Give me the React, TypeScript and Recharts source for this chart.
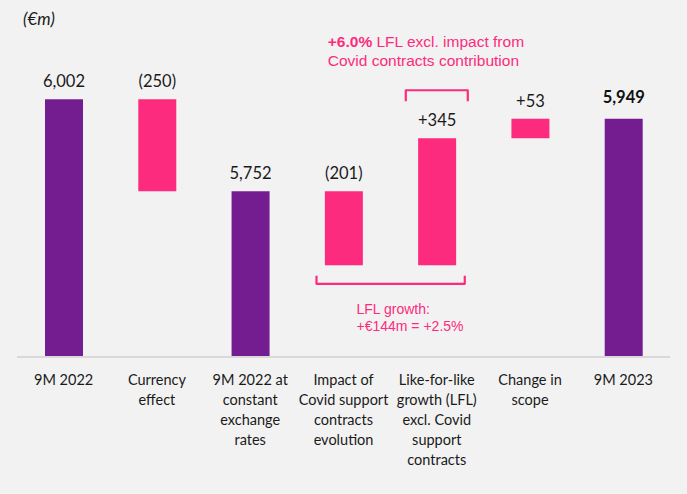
import { BarChart, Bar, XAxis, YAxis, Cell, LabelList } from 'recharts';

// categories (line breaks as in the slide)
const categories = [
  '9M 2022',
  'Currency\neffect',
  '9M 2022 at\nconstant\nexchange\nrates',
  'Impact of\nCovid support\ncontracts\nevolution',
  'Like-for-like\ngrowth (LFL)\nexcl. Covid\nsupport\ncontracts',
  'Change in\nscope',
  '9M 2023',
];
// totals are absolute, the rest are steps (€m)
const amounts = [6002, -250, 5752, -201, 345, 53, 5949];
const isTotal = [true, false, true, false, false, false, true];
const valueLabels = ['6,002', '(250)', '5,752', '(201)', '+345', '+53', '5,949'];

const W = 687;
const H = 494;
const MARGIN = { top: 20, right: 17, left: 17, bottom: 0 };
const AXIS_H = 137;
const Y_MIN = 5302;
const Y_MAX = 6217;

const PURPLE = '#741D91';
const PINK = '#FC2B7D';
const TEXT = '#1A1A1A';
const BODY_FONT = 'Lato, "Open Sans", sans-serif';
const NOTE_FONT = '"Liberation Sans", Arial, sans-serif';

// running waterfall levels
const ends: number[] = [];
amounts.forEach((a, i) => {
  ends.push(isTotal[i] ? a : ends[i - 1] + a);
});
const data = categories.map((name, i) => {
  const start = isTotal[i] ? 0 : ends[i - 1];
  return {
    name,
    range: [Math.min(start, ends[i]), Math.max(start, ends[i])],
    label: valueLabels[i],
  };
});

// same mapping as the chart, used only to place the annotations
const plotW = W - MARGIN.left - MARGIN.right;
const plotH = H - MARGIN.top - MARGIN.bottom - AXIS_H;
const band = plotW / categories.length;
const xc = (i: number) => MARGIN.left + band * (i + 0.5);
const yv = (v: number) => MARGIN.top + ((Y_MAX - v) / (Y_MAX - Y_MIN)) * plotH;

const Tick = (props: any) => {
  const { x, y, payload } = props;
  const lines = String(payload.value).split('\n');
  return (
    <text x={x} y={y} textAnchor="middle" fill={TEXT} fontSize={14.5} fontFamily={BODY_FONT}>
      {lines.map((l, i) => (
        <tspan key={i} x={x} y={y + 28 + i * 20}>
          {l}
        </tspan>
      ))}
    </text>
  );
};

const ValueLabel = (props: any) => {
  const { x, y, width, value } = props;
  const idx = valueLabels.indexOf(String(value));
  const last = idx === valueLabels.length - 1;
  return (
    <text
      x={Number(x) + Number(width) / 2}
      y={Number(y) - (last ? 16 : 12)}
      textAnchor="middle"
      fill={last ? '#111' : TEXT}
      fontSize={16.5}
      fontWeight={last ? 700 : 400}
      fontFamily={BODY_FONT}
    >
      {value}
    </text>
  );
};

function Notes() {
  const lflTop = yv(ends[4]);
  const covidBottom = yv(ends[3]);
  const upTop = lflTop - 48;
  const lowBottom = covidBottom + 18.5;
  const upL = xc(4) - 31;
  const upR = xc(4) + 31;
  const lowL = xc(3) - 27;
  const lowR = xc(4) + 28;
  return (
    <svg width={W} height={H} style={{ position: 'absolute', left: 0, top: 0, pointerEvents: 'none' }}>
      <text x={23} y={25} fontSize={17} fontStyle="italic" fill={TEXT} fontFamily={BODY_FONT}>
        (€m)
      </text>
      <path
        d={`M${upL},${upTop + 11} V${upTop} H${upR} V${upTop + 11}`}
        fill="none"
        stroke={PINK}
        strokeWidth={2.2}
        strokeLinejoin="round"
      />
      <path
        d={`M${lowL},${lowBottom - 8} V${lowBottom} H${lowR} V${lowBottom - 8}`}
        fill="none"
        stroke={PINK}
        strokeWidth={2.2}
        strokeLinejoin="round"
      />
      <text x={xc(4) - 109} y={upTop - 43} fontSize={15.5} fill={PINK} fontFamily={NOTE_FONT}>
        <tspan fontWeight={700}>+6.0%</tspan>
        <tspan> LFL excl. impact from</tspan>
        <tspan x={xc(4) - 109} dy={19}>
          Covid contracts contribution
        </tspan>
      </text>
      <text x={xc(3) + 13} y={lowBottom + 30} fontSize={14} fill={PINK} fontFamily={NOTE_FONT}>
        <tspan>LFL growth:</tspan>
        <tspan x={xc(3) + 13} dy={17.5}>
          +€144m = +2.5%
        </tspan>
      </text>
    </svg>
  );
}

export default function App() {
  return (
    <div style={{ position: 'absolute', left: 0, top: 0, width: W, height: H, background: '#F2F2F2' }}>
      <BarChart width={W} height={H} data={data} margin={MARGIN}>
        <XAxis
          dataKey="name"
          interval={0}
          tickLine={false}
          tickSize={0}
          tickMargin={0}
          height={AXIS_H}
          axisLine={{ stroke: '#D9D9D9', strokeWidth: 2 }}
          tick={<Tick />}
        />
        <YAxis hide domain={[Y_MIN, Y_MAX]} allowDataOverflow />
        <Bar dataKey="range" barSize={38} isAnimationActive={false}>
          {data.map((d, i) => (
            <Cell key={d.name} fill={isTotal[i] ? PURPLE : PINK} />
          ))}
          <LabelList dataKey="label" content={<ValueLabel />} />
        </Bar>
      </BarChart>
      <Notes />
    </div>
  );
}
